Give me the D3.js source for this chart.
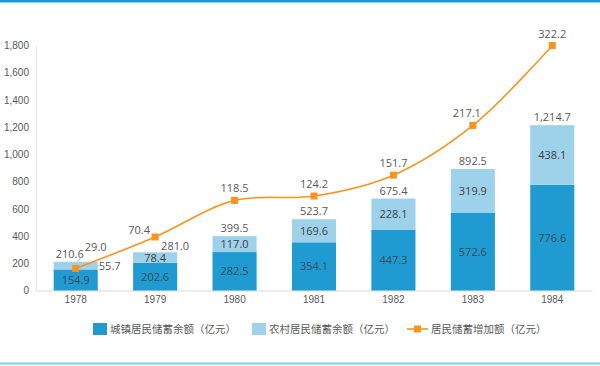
<!DOCTYPE html>
<html><head><meta charset="utf-8">
<script src="https://cdn.jsdelivr.net/npm/d3@7/dist/d3.min.js"></script>
<style>
body{margin:0;background:#fff;}
svg{display:block;font-family:"Segoe UI","Open Sans","Noto Sans",sans-serif;}
</style></head>
<body><svg id="c" width="600" height="366"></svg>
<script>
const years = ["1978","1979","1980","1981","1982","1983","1984"];
const urban = [154.9, 202.6, 282.5, 354.1, 447.3, 572.6, 776.6];
const rural = [55.7, 78.4, 117.0, 169.6, 228.1, 319.9, 438.1];
const total = [210.6, 281.0, 399.5, 523.7, 675.4, 892.5, 1214.7];
const increase = [29.0, 70.4, 118.5, 124.2, 151.7, 217.1, 322.2];
const yTicks = [0, 200, 400, 600, 800, 1000, 1200, 1400, 1600, 1800];
const seriesNames = ["城镇居民储蓄余额（亿元）", "农村居民储蓄余额（亿元）", "居民储蓄增加额（亿元）"];

const C_URBAN = "#1f9bd2", C_RURAL = "#9dd2ea", C_LINE = "#f7931e";
const svg = d3.select("#c");
const pLeft = 36, pRight = 592, pTop = 45.5, pBottom = 290.5;

svg.append("rect").attr("x",0).attr("y",0).attr("width",600).attr("height",2.5).attr("fill","#1a9ad6");
svg.append("rect").attr("x",0).attr("y",362.5).attr("width",600).attr("height",2).attr("fill","#7ecbec");

const x = d3.scaleBand().domain(years).range([pLeft, pRight]).paddingInner(0.445).paddingOuter(0.2225);
const y = d3.scaleLinear().domain([0, 1800]).range([pBottom, pTop]);
const y2 = d3.scaleLinear().domain([0, 322.2]).range([pBottom, pTop]);

// y axis
const ya = svg.append("g").attr("transform",`translate(${pLeft},0)`)
  .call(d3.axisLeft(y).tickValues(yTicks).tickSize(0).tickPadding(7).tickFormat(d3.format(",")));
ya.select(".domain").attr("stroke","#e6e6e6");
ya.selectAll("text").attr("fill","#595959").attr("font-size","10px");

// x axis
const xa = svg.append("g").attr("transform",`translate(0,${pBottom})`)
  .call(d3.axisBottom(x).tickSize(0).tickPadding(5));
xa.select(".domain").attr("stroke","#d9d9d9");
xa.selectAll("text").attr("fill","#595959").attr("font-size","10px");

// bars
const bw = x.bandwidth();
svg.append("g").selectAll("rect").data(years).join("rect")
  .attr("x", d => x(d)).attr("width", bw)
  .attr("y", (d,i) => y(urban[i])).attr("height", (d,i) => y(0) - y(urban[i]))
  .attr("fill", C_URBAN);
svg.append("g").selectAll("rect").data(years).join("rect")
  .attr("x", d => x(d)).attr("width", bw)
  .attr("y", (d,i) => y(urban[i] + rural[i])).attr("height", (d,i) => y(urban[i]) - y(urban[i] + rural[i]))
  .attr("fill", C_RURAL);

const lab = svg.append("g").attr("font-size","11px").attr("text-anchor","middle");
const cx = d => x(d) + bw/2;
// urban labels
years.forEach((d,i) => {
  lab.append("text").attr("x", cx(d)).attr("y", (y(0)+y(urban[i]))/2 + 4).attr("fill","#3a4a58").text(urban[i].toFixed(1));
});
// rural labels
years.forEach((d,i) => {
  if (i === 0) return;
  lab.append("text").attr("x", cx(d)).attr("y", (y(urban[i])+y(urban[i]+rural[i]))/2 + 4).attr("fill","#404040").text(rural[i].toFixed(1));
});
// total labels
years.forEach((d,i) => {
  if (i <= 1) return;
  lab.append("text").attr("x", cx(d)).attr("y", y(total[i]) - 4).attr("fill","#595959").text(d3.format(",.1f")(total[i]));
});

// line
const line = d3.line().x((d,i) => cx(years[i])).y(d => y2(d)).curve(d3.curveCatmullRom.alpha(0.5));
svg.append("path").datum(increase).attr("d", line).attr("fill","none").attr("stroke",C_LINE).attr("stroke-width",1.6);
svg.append("g").selectAll("rect").data(increase).join("rect")
  .attr("x",(d,i)=>cx(years[i])-3.5).attr("y",d=>y2(d)-3.5).attr("width",7).attr("height",7).attr("fill",C_LINE);
increase.forEach((v,i) => {
  if (i <= 1) return;
  lab.append("text").attr("x", cx(years[i]) + (i===5 ? -6 : 0)).attr("y", y2(v) - 8).attr("fill","#595959").text(v.toFixed(1));
});

// special 1978 / 1979 labels
{
  const d0 = years[0];
  lab.append("text").attr("x", cx(d0) - 6).attr("y", y(total[0]) - 4).attr("fill","#595959").text(total[0].toFixed(1));
  lab.append("text").attr("x", cx(d0) + 34).attr("y", y(urban[0]+rural[0]/2) + 4).attr("fill","#595959").text(rural[0].toFixed(1));
  lab.append("text").attr("x", cx(d0) + 20).attr("y", y2(increase[0]) - 17).attr("fill","#595959").text(increase[0].toFixed(1));
  svg.append("path").attr("d", `M${cx(d0)+6},${y2(increase[0])-12} L${cx(d0)+2},${y2(increase[0])-7}`).attr("stroke","#bfbfbf").attr("fill","none");
  svg.append("path").attr("d", `M${cx(d0)+24},${y(urban[0]+rural[0]/2)} L${cx(d0)+20},${y(urban[0]+rural[0]/2)+1}`).attr("stroke","#bfbfbf").attr("fill","none");
  const d1 = years[1];
  lab.append("text").attr("x", cx(d1) + 20).attr("y", y2(increase[1]) + 13).attr("fill","#595959").text(total[1].toFixed(1));
  lab.append("text").attr("x", cx(d1) - 16).attr("y", y2(increase[1]) - 3).attr("fill","#595959").text(increase[1].toFixed(1));
}

// legend
const lg = svg.append("g").attr("font-family",'"Noto Sans CJK SC","Noto Sans",sans-serif').attr("font-size","10.5px").attr("fill","#595959");
lg.append("rect").attr("x",93).attr("y",323).attr("width",14).attr("height",12).attr("fill",C_URBAN);
lg.append("text").attr("x",110).attr("y",333).text(seriesNames[0]);
lg.append("rect").attr("x",252).attr("y",323).attr("width",14).attr("height",12).attr("fill",C_RURAL);
lg.append("text").attr("x",269).attr("y",333).text(seriesNames[1]);
lg.append("line").attr("x1",407).attr("x2",428).attr("y1",329).attr("y2",329).attr("stroke",C_LINE).attr("stroke-width",1.6);
lg.append("rect").attr("x",414).attr("y",325.5).attr("width",7).attr("height",7).attr("fill",C_LINE);
lg.append("text").attr("x",431).attr("y",333).text(seriesNames[2]);
</script></body></html>
